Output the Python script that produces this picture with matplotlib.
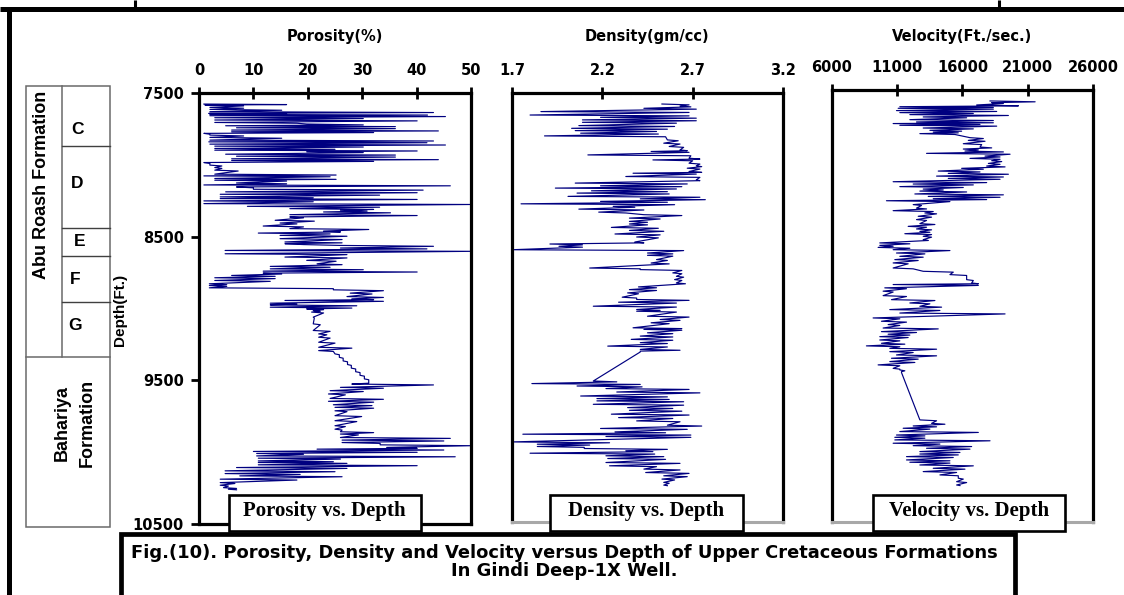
import matplotlib
matplotlib.use("Agg")
import matplotlib.pyplot as plt
from matplotlib.patches import Rectangle

# ---------------- data ----------------
depth_ticks = [7500, 8500, 9500, 10500]
por_ticks = [0, 10, 20, 30, 40, 50]
den_ticks = [1.7, 2.2, 2.7, 3.2]
den_ticklabels = ["1.7", "2.2", "2.7", "3.2"]
vel_ticks = [6000, 11000, 16000, 21000, 26000]

# Porosity log: at each depth row the curve swings between the two values
por_depth = [7577, 7584, 7600, 7614, 7630, 7642, 7649, 7658, 7672, 7688, 7705, 7716, 7728, 7742,
             7758, 7770, 7781, 7793, 7809, 7828, 7840, 7856, 7870, 7886, 7898, 7909, 7926, 7940,
             7958, 7970, 7984, 8002, 8019, 8037, 8065, 8077, 8095, 8107, 8126, 8140, 8154, 8170,
             8188, 8205, 8223, 8235, 8251, 8270, 8289, 8305, 8316, 8328, 8347, 8363, 8386, 8405,
             8426, 8444, 8461, 8475, 8491, 8514, 8537, 8549, 8561, 8579, 8596, 8619, 8642, 8665,
             8689, 8707, 8724, 8740, 8754, 8770, 8786, 8805, 8828, 8840, 8856, 8870, 8893, 8917,
             8933, 8944, 8963, 8975, 8991, 9003, 9014, 9025, 9060, 9107, 9153, 9177, 9200, 9235,
             9270, 9293, 9316, 9340, 9365, 9390, 9415, 9440, 9465, 9490, 9514, 9526, 9549, 9572,
             9595, 9626, 9646, 9670, 9688, 9712, 9746, 9781, 9816, 9840, 9858, 9874, 9898, 9916,
             9933, 9949, 9967, 9979, 9995, 10009, 10026, 10042, 10061, 10072, 10088, 10107, 10130,
             10149, 10165, 10188, 10212, 10230, 10247, 10258]
por_first = [0.9, 8.2, 2.0, 15.2, 2.0, 16.1, 2.0, 45.3, 2.9, 40.1, 2.9, 30.2, 4.9, 36.1,
             6.0, 32.1, 0.9, 8.2, 2.0, 43.1, 1.8, 45.3, 2.9, 25.0, 2.9, 30.2, 4.9, 36.1,
             6.0, 32.1, 0.9, 4.2, 2.9, 7.2, 2.9, 24.1, 2.9, 16.1, 6.9, 46.2, 6.9, 41.2,
             4.9, 33.2, 3.9, 40.1, 0.9, 50.0, 8.9, 32.1, 26.0, 35.2, 16.7, 19.2, 14.0, 18.0,
             11.8, 31.2, 22.9, 24.1, 14.9, 26.3, 15.8, 19.2, 26.0, 41.9, 4.8, 27.2, 15.8, 25.2,
             21.7, 24.1, 13.1, 40.1, 11.8, 14.0, 2.9, 13.1, 1.9, 5.1, 1.9, 24.7, 27.8, 33.9,
             28.1, 33.9, 13.1, 29.0, 13.1, 22.9, 21.0, 22.9, 21.0, 21.0, 24.1, 22.0, 24.1, 22.0,
             28.1, 22.0, 25.0, 25.8, 26.5, 27.3, 28.0, 28.8, 29.6, 30.4, 31.2, 28.1, 33.9, 24.1,
             26.9, 24.1, 32.1, 24.7, 32.1, 25.0, 29.9, 25.0, 26.9, 25.0, 32.1, 26.0, 46.2, 26.3,
             33.3, 33.3, 40.1, 45.0, 10.0, 19.2, 10.6, 26.0, 10.9, 27.2, 10.9, 27.2, 4.8,
             18.6, 7.5, 18.0, 3.9, 5.4, 4.5, 6.9]
por_second = [16.1, 1.1, 8.2, 2.0, 43.1, 1.8, 42.0, 2.0, 30.2, 2.9, 18.0, 19.8, 36.1, 6.9,
              44.0, 6.0, 2.0, 2.0, 15.2, 2.0, 41.9, 2.0, 30.2, 2.9, 40.1, 19.8, 36.1, 6.9,
              44.0, 6.0, 2.0, 2.0, 4.2, 2.9, 25.2, 0.9, 25.2, 2.9, 16.1, 0.9, 10.0, 10.0,
              40.1, 3.9, 21.0, 3.9, 21.0, 0.9, 33.2, 16.7, 30.9, 22.9, 40.1, 16.7, 21.2, 14.9,
              19.2, 16.7, 26.0, 10.9, 27.2, 14.9, 26.3, 15.8, 43.1, 26.0, 50.0, 4.8, 27.2, 19.8,
              26.3, 13.1, 30.2, 11.8, 15.2, 6.0, 14.0, 2.9, 5.1, 1.9, 24.7, 33.9, 31.8, 27.2,
              32.1, 15.8, 18.0, 13.1, 28.1, 19.8, 22.3, 20.7, 21.2, 22.3, 21.0, 23.5, 22.0, 25.0,
              22.0, 24.7, 25.8, 26.5, 27.3, 28.0, 28.8, 29.6, 30.4, 31.2, 31.2, 43.1, 26.0, 30.2,
              23.8, 33.9, 23.8, 31.8, 25.0, 27.2, 25.0, 29.0, 25.0, 26.3, 26.0, 29.3, 26.0, 45.0,
              26.3, 50.0, 34.5, 21.7, 40.1, 10.6, 47.1, 10.9, 24.7, 10.9, 40.1, 6.9, 25.0,
              4.8, 26.3, 3.9, 6.6, 3.9, 6.9, 5.4]

# Density log
den_depth = [7577, 7591, 7607, 7630, 7654, 7670, 7688, 7705, 7728, 7747, 7763, 7781, 7800, 7828,
             7851, 7874, 7898, 7909, 7933, 7956, 7968, 7991, 8009, 8026, 8049, 8061, 8084, 8107,
             8130, 8149, 8165, 8184, 8200, 8223, 8240, 8258, 8275, 8293, 8312, 8333, 8351, 8375,
             8398, 8416, 8440, 8461, 8486, 8507, 8542, 8556, 8572, 8596, 8619, 8635, 8665, 8689,
             8724, 8735, 8758, 8782, 8805, 8828, 8856, 8875, 8898, 8928, 8944, 8963, 8991, 9014,
             9026, 9061, 9084, 9107, 9142, 9153, 9177, 9200, 9223, 9246, 9270, 9293, 9305, 9514,
             9532, 9549, 9567, 9591, 9619, 9637, 9653, 9677, 9700, 9719, 9746, 9770, 9793, 9823,
             9846, 9870, 9886, 9902, 9940, 9956, 9972, 9986, 10002, 10019, 10037, 10056, 10084,
             10107, 10130, 10154, 10177, 10200, 10223, 10242]
den_first = [2.53, 2.69, 2.43, 2.68, 1.80, 2.72, 2.09, 2.61, 2.07, 2.56, 2.05, 2.51, 1.88, 2.62,
             2.54, 2.65, 2.63, 2.68, 2.12, 2.74, 2.48, 2.74, 2.72, 2.74, 2.68, 2.72, 2.33, 2.74,
             2.05, 2.64, 1.94, 2.56, 2.06, 2.74, 2.41, 2.56, 1.75, 2.38, 2.07, 2.33, 2.43, 2.52,
             2.35, 2.45, 2.25, 2.54, 2.27, 2.51, 2.38, 2.09, 1.96, 1.70, 2.59, 2.45, 2.56, 2.47,
             2.41, 2.41, 2.64, 2.61, 2.64, 2.61, 2.50, 2.35, 2.40, 2.31, 2.68, 2.29, 2.61, 2.39,
             2.61, 2.45, 2.63, 2.47, 2.64, 2.43, 2.59, 2.41, 2.59, 2.41, 2.56, 2.63, 2.41, 2.15,
             2.41, 2.06, 2.68, 2.28, 2.56, 2.17, 2.65, 2.15, 2.59, 2.35, 2.68, 2.29, 2.63, 2.56,
             2.67, 2.27, 2.69, 2.22, 2.24, 1.84, 2.10, 2.10, 2.48, 1.80, 2.54, 2.23, 2.63,
             2.24, 2.63, 2.44, 2.67, 2.53, 2.57, 2.54]
den_second = [2.68, 2.63, 2.72, 1.86, 2.68, 2.19, 2.72, 2.09, 2.60, 2.03, 2.50, 2.08, 2.55, 2.56,
              2.63, 2.57, 2.67, 2.47, 2.69, 2.68, 2.70, 2.68, 2.75, 2.67, 2.75, 2.37, 2.74, 2.72,
              2.67, 2.19, 2.61, 2.14, 2.57, 2.01, 2.77, 2.19, 2.60, 2.26, 2.43, 2.18, 2.64, 2.35,
              2.45, 2.35, 2.51, 2.35, 2.52, 2.39, 2.43, 1.91, 2.09, 2.65, 2.45, 2.59, 2.50, 2.57,
              2.13, 2.64, 2.59, 2.65, 2.60, 2.66, 2.40, 2.50, 2.34, 2.39, 2.39, 2.61, 2.15, 2.52,
              2.39, 2.68, 2.52, 2.57, 2.37, 2.64, 2.45, 2.59, 2.36, 2.56, 2.23, 2.41, 2.41, 2.28,
              1.81, 2.42, 2.22, 2.74, 2.08, 2.57, 2.17, 2.65, 2.34, 2.64, 2.25, 2.59, 2.39, 2.75,
              2.19, 2.55, 1.76, 2.69, 1.70, 2.13, 1.84, 2.56, 2.33, 2.49, 2.22, 2.55, 2.22,
              2.50, 2.43, 2.68, 2.54, 2.60, 2.54, 2.56]

# Velocity log
vel_depth = [7576, 7588, 7604, 7616, 7627, 7643, 7657, 7671, 7687, 7706, 7722, 7733, 7745, 7764,
             7780, 7792, 7803, 7831, 7850, 7873, 7896, 7910, 7924, 7940, 7959, 7975, 7991, 8010,
             8028, 8044, 8063, 8079, 8098, 8114, 8137, 8153, 8171, 8188, 8202, 8222, 8239, 8255,
             8269, 8296, 8320, 8338, 8354, 8377, 8400, 8428, 8447, 8465, 8482, 8498, 8516, 8539,
             8562, 8579, 8593, 8609, 8632, 8655, 8678, 8701, 8736, 8759, 8782, 8817, 8840, 8851,
             8874, 8897, 8928, 8956, 8979, 9002, 9025, 9049, 9083, 9106, 9129, 9153, 9178, 9196,
             9213, 9236, 9259, 9277, 9294, 9317, 9340, 9363, 9386, 9409, 9433, 9444, 9456, 9791,
             9815, 9833, 9849, 9872, 9896, 9912, 9930, 9953, 9970, 9988, 10011, 10028, 10046,
             10069, 10085, 10104, 10127, 10150, 10173, 10196, 10220, 10243]
vel_first = [18109, 19133, 17085, 18365, 11069, 18621, 11197, 19517, 12989, 18365, 12477, 17341,
             11197, 16829, 13501, 15677, 12733, 16573, 17725, 16061, 18237, 16061, 19133, 13245,
             18877, 16573, 19005, 17981, 19261, 17597, 14141, 19517, 14013, 18877, 10685, 16829,
             11197, 14525, 12733, 19133, 13373, 17853, 10173, 12221, 13245, 10685, 14013, 12605,
             13245, 12733, 13245, 12477, 13501, 11581, 13629, 12989, 9661, 10685, 9533, 15037,
             10941, 12989, 10813, 11837, 10685, 15293, 15037, 16317, 16701, 17213, 11709, 9917,
             11709, 10557, 13501, 12733, 14269, 11197, 11197, 9789, 11197, 9917, 12477, 10301,
             11837, 9661, 11581, 8637, 14013, 10429, 14013, 10557, 12349, 9533, 11197, 11197,
             11325, 12733, 14653, 12221, 13501, 11197, 13117, 10813, 18109, 10685, 16701, 13245,
             15805, 12733, 15293, 11709, 15037, 12733, 16189, 12989, 15677, 15677, 16317, 15549]
vel_second = [21565, 18237, 20285, 11197, 18365, 10941, 16829, 11965, 16317, 11965, 18365, 10685,
              18621, 12989, 15933, 13757, 15421, 17597, 16445, 17469, 17341, 17213, 16189, 19645,
              17725, 18877, 18237, 18877, 17853, 15933, 17341, 14909, 19133, 14909, 17853, 12221,
              16061, 12989, 16317, 12349, 18877, 13757, 15037, 12861, 12477, 13757, 13117, 13629,
              12477, 13885, 11837, 13629, 12733, 13629, 12989, 13373, 11965, 9661, 11965, 10685,
              13117, 11197, 12605, 10685, 12221, 12989, 16317, 16829, 17213, 10685, 10045, 10685,
              9917, 13885, 11965, 14397, 10429, 19261, 9149, 11709, 10301, 14141, 9789, 11965,
              9661, 11197, 9789, 11197, 10429, 12221, 10941, 12605, 10429, 11197, 10685, 11581,
              11325, 14013, 13629, 14013, 11453, 17213, 10941, 13117, 10813, 14269, 12221, 16573,
              12733, 15677, 11709, 15037, 11965, 16829, 13757, 15549, 14269, 16061, 15549, 15805]

# ---------------- helpers ----------------
W, H = 1124, 595
SANS = ["Liberation Sans", "DejaVu Sans"]
WIDE = ["DejaVu Sans"]
SERIF = ["Liberation Serif", "DejaVu Serif"]
LINE_COLOR = "#000080"

fig = plt.figure(figsize=(W / 100, H / 100), dpi=100)
fig.patch.set_facecolor("white")


def add_px_axes(x0, x1, y0, y1):
    return fig.add_axes([x0 / W, 1 - y1 / H, (x1 - x0) / W, (y1 - y0) / H])


def trace(depth, first, second):
    """Zig-zag log trace: low end of each row, then high end a few feet deeper."""
    xs, ys = [], []
    n = len(depth)
    for i, (d, a, b) in enumerate(zip(depth, first, second)):
        lo, hi = min(a, b), max(a, b)
        gap = (depth[i + 1] - d) if i + 1 < n else 8
        off = min(gap / 2.0, 6.0)
        xs += [lo, hi]
        ys += [d, d + off]
    return xs, ys


def style_track(ax, xlim, ticks, labels, grey_bottom):
    ax.set_xlim(*xlim)
    ax.set_ylim(10500, 7500)
    ax.xaxis.tick_top()
    ax.set_xticks(ticks)
    ax.set_xticklabels(labels, fontfamily=WIDE, fontweight="bold", fontsize=10.5)
    ax.tick_params(axis="x", direction="inout", length=9, width=2, pad=6)
    for s in ax.spines.values():
        s.set_linewidth(2.3)
        s.set_color("black")
    if grey_bottom:
        ax.spines["bottom"].set_color("#a8a8a8")
        ax.spines["bottom"].set_linewidth(2.2)


# ---------------- tracks ----------------
ax_p = add_px_axes(199, 471, 93, 524)
xs, ys = trace(por_depth, por_first, por_second)
ax_p.plot(xs, ys, color=LINE_COLOR, lw=0.85)
style_track(ax_p, (0, 50), por_ticks, [str(t) for t in por_ticks], False)
ax_p.set_yticks(depth_ticks)
ax_p.set_yticklabels([str(t) for t in depth_ticks], fontfamily=WIDE, fontweight="bold", fontsize=10.5)
ax_p.tick_params(axis="y", direction="out", length=6, width=2, pad=5)

ax_d = add_px_axes(512, 783, 93, 522)
xs, ys = trace(den_depth, den_first, den_second)
ax_d.plot(xs, ys, color=LINE_COLOR, lw=0.85)
style_track(ax_d, (1.7, 3.2), den_ticks, den_ticklabels, True)
ax_d.set_yticks([])

ax_v = add_px_axes(832, 1093, 90, 522)
xs, ys = trace(vel_depth, vel_first, vel_second)
ax_v.plot(xs, ys, color=LINE_COLOR, lw=0.85)
style_track(ax_v, (6000, 26000), vel_ticks, [str(t) for t in vel_ticks], True)
ax_v.set_yticks([])

# ---------------- overlay (frame, boxes, labels) ----------------
ov = fig.add_axes([0, 0, 1, 1], zorder=10)
ov.set_xlim(0, W)
ov.set_ylim(H, 0)
ov.axis("off")
ov.patch.set_alpha(0)

# outer frame
ov.plot([0, W], [9, 9], color="black", lw=3.6, solid_capstyle="butt")
ov.plot([8.5, 8.5], [7, H], color="black", lw=3.6, solid_capstyle="butt")
ov.plot([135, 135], [0, 9], color="black", lw=2.2, solid_capstyle="butt")
ov.plot([999, 999], [0, 9], color="black", lw=2.2, solid_capstyle="butt")

# caption box
ov.plot([120.5, 120.5, 1015, 1015], [H + 5, 534, 534, H + 5], color="black", lw=3.4,
        solid_joinstyle="miter")
ov.text(564, 553, "Fig.(10). Porosity, Density and Velocity versus Depth of Upper Cretaceous Formations",
        ha="center", va="center", fontfamily=WIDE, fontweight="bold", fontsize=12.9)
ov.text(564, 571, "In Gindi Deep-1X Well.", ha="center", va="center",
        fontfamily=WIDE, fontweight="bold", fontsize=12.9)

# titles of tracks
for cx, t in [(335, "Porosity(%)"), (647, "Density(gm/cc)"), (962, "Velocity(Ft./sec.)")]:
    ov.text(cx, 36, t, ha="center", va="center", fontfamily=WIDE, fontweight="bold", fontsize=10.5)

# label boxes
for x0, x1, t in [(228.5, 421, "Porosity vs. Depth"), (550, 743, "Density vs. Depth"),
                  (873, 1065, "Velocity vs. Depth")]:
    ov.add_patch(Rectangle((x0, 494.5), x1 - x0, 36.5, facecolor="white", edgecolor="black", lw=1.9))
    ov.text((x0 + x1) / 2, 511, t, ha="center", va="center", fontfamily=SERIF,
            fontweight="bold", fontsize=15)

# formation column
gc = "#6a6a6a"
ov.add_patch(Rectangle((26, 86), 84, 441, facecolor="none", edgecolor=gc, lw=1.1))
ov.plot([62, 62], [86, 357], color=gc, lw=1.1)
ov.plot([26, 110], [357, 357], color=gc, lw=1.1)
for yy in [146, 228, 256, 302]:
    ov.plot([62, 110], [yy, yy], color="#404040", lw=1.0)
ov.text(42, 185, "Abu Roash Formation", rotation=90, ha="center", va="center",
        fontfamily=SANS, fontweight="bold", fontsize=13)
for lx, ly, t in [(77, 130, "C"), (77, 183, "D"), (80, 241, "E"), (75, 279, "F"), (75, 325, "G")]:
    ov.text(lx, ly, t, ha="center", va="center", fontfamily=SANS, fontweight="bold", fontsize=12.5)
ov.text(62, 423, "Bahariya", rotation=90, ha="center", va="center",
        fontfamily=SANS, fontweight="bold", fontsize=13)
ov.text(87, 423, "Formation", rotation=90, ha="center", va="center",
        fontfamily=SANS, fontweight="bold", fontsize=13)
ov.text(120, 310, "Depth(Ft.)", rotation=90, ha="center", va="center",
        fontfamily=SANS, fontweight="bold", fontsize=11)

fig.savefig("out.png", dpi=100)
